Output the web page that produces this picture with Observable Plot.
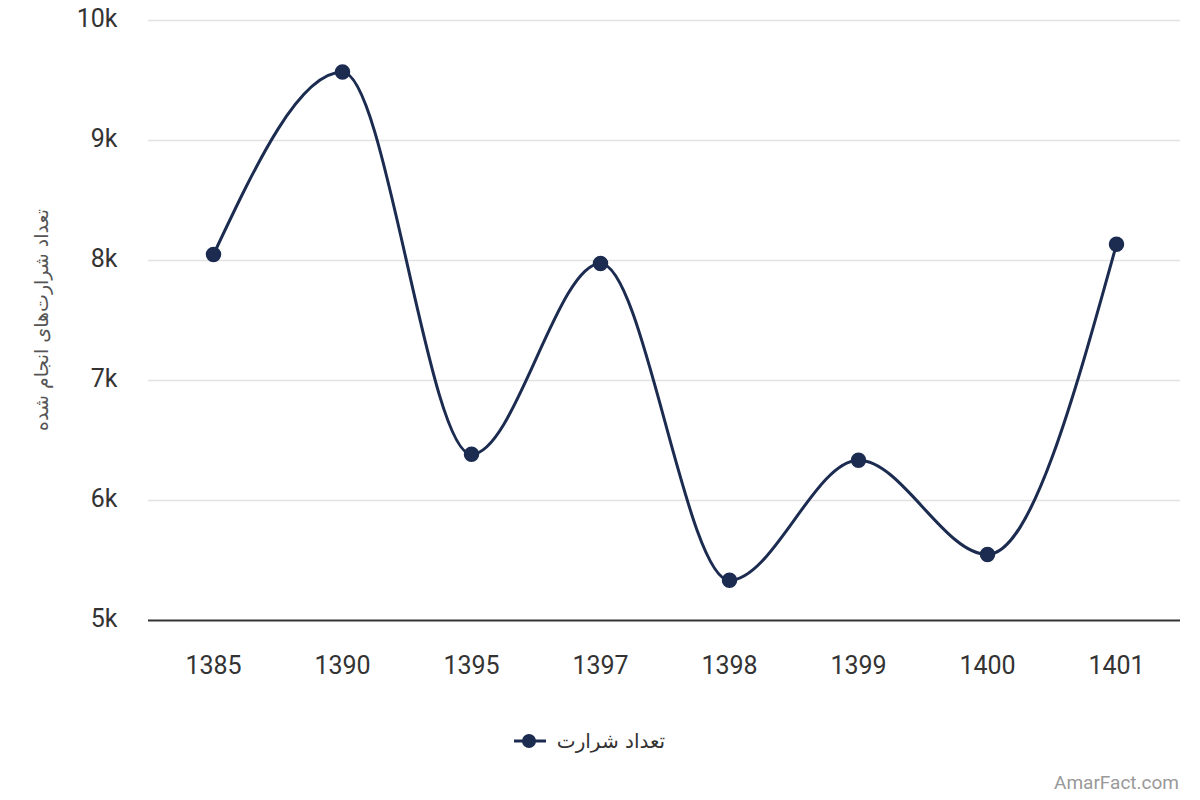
<!DOCTYPE html>
<html>
<head>
<meta charset="utf-8">
<script src="https://cdn.jsdelivr.net/npm/d3@7"></script>
<script src="https://cdn.jsdelivr.net/npm/@observablehq/plot@0.6"></script>
<style>
  html, body { margin: 0; padding: 0; background: #fff; }
  body { width: 1200px; height: 800px; position: relative; font-family: Roboto, "DejaVu Sans", sans-serif; }
  #legend { position: absolute; top: 729px; left: -11px; width: 1200px; display: flex; justify-content: center; align-items: center; gap: 10px; font-size: 20px; color: #333; }
  #credit { position: absolute; right: 21px; top: 771px; font-size: 19px; color: #999; font-family: Roboto, sans-serif; }
</style>
</head>
<body>
<div id="chart"></div>
<div id="legend"></div>
<div id="credit">AmarFact.com</div>
<script>
const years = ["1385", "1390", "1395", "1397", "1398", "1399", "1400", "1401"];
const counts = [8050, 9570, 6385, 7975, 5335, 6335, 5550, 8135];
const yTicks = [5000, 6000, 7000, 8000, 9000, 10000];
const seriesName = "تعداد شرارت";
const yLabel = "تعداد شرارت‌های انجام شده";
const lineColor = "#1c2b50";

const data = years.map((y, i) => ({year: y, value: counts[i]}));

const chart = Plot.plot({
  width: 1200,
  height: 700,
  marginTop: 20,
  marginBottom: 80,
  marginLeft: 148,
  marginRight: 20,
  style: {fontFamily: "Roboto, sans-serif", fontSize: "25px", color: "#333", background: "#fff"},
  x: {type: "point", domain: years, padding: 0.5, label: null},
  y: {domain: [5000, 10000], label: null},
  marks: [
    Plot.ruleY(yTicks.slice(1), {stroke: "#e2e2e2", strokeWidth: 1.3}),
    Plot.axisY({ticks: yTicks, tickSize: 0, tickPadding: 31, tickFormat: d => (d / 1000) + "k", fontSize: 25, fill: "#333", dy: -2}),
    Plot.axisX({tickSize: 0, tickPadding: 36, fontSize: 25, fill: "#333"}),
    Plot.ruleY([5000], {stroke: "#333", strokeWidth: 2}),
    Plot.line(data, {x: "year", y: "value", curve: "monotone-x", stroke: lineColor, strokeWidth: 3}),
    Plot.dot(data, {x: "year", y: "value", r: 7, fill: lineColor, stroke: lineColor})
  ]
});
document.getElementById("chart").appendChild(chart);

// Y axis title
const svg = d3.select(chart);
svg.append("text")
  .attr("transform", "translate(42,320) rotate(-90)")
  .attr("text-anchor", "middle")
  .attr("dominant-baseline", "middle")
  .attr("fill", "#555")
  .attr("font-size", 19)
  .attr("font-family", "'DejaVu Sans', sans-serif")
  .attr("direction", "rtl")
  .text(yLabel);

// Legend
const legend = document.getElementById("legend");
legend.innerHTML = `<svg width="34" height="16"><line x1="1" y1="8" x2="33" y2="8" stroke="${lineColor}" stroke-width="3"/><circle cx="16" cy="8" r="7" fill="${lineColor}"/></svg><span dir="rtl" style="font-family:'DejaVu Sans',sans-serif">${seriesName}</span>`;
</script>
</body>
</html>
